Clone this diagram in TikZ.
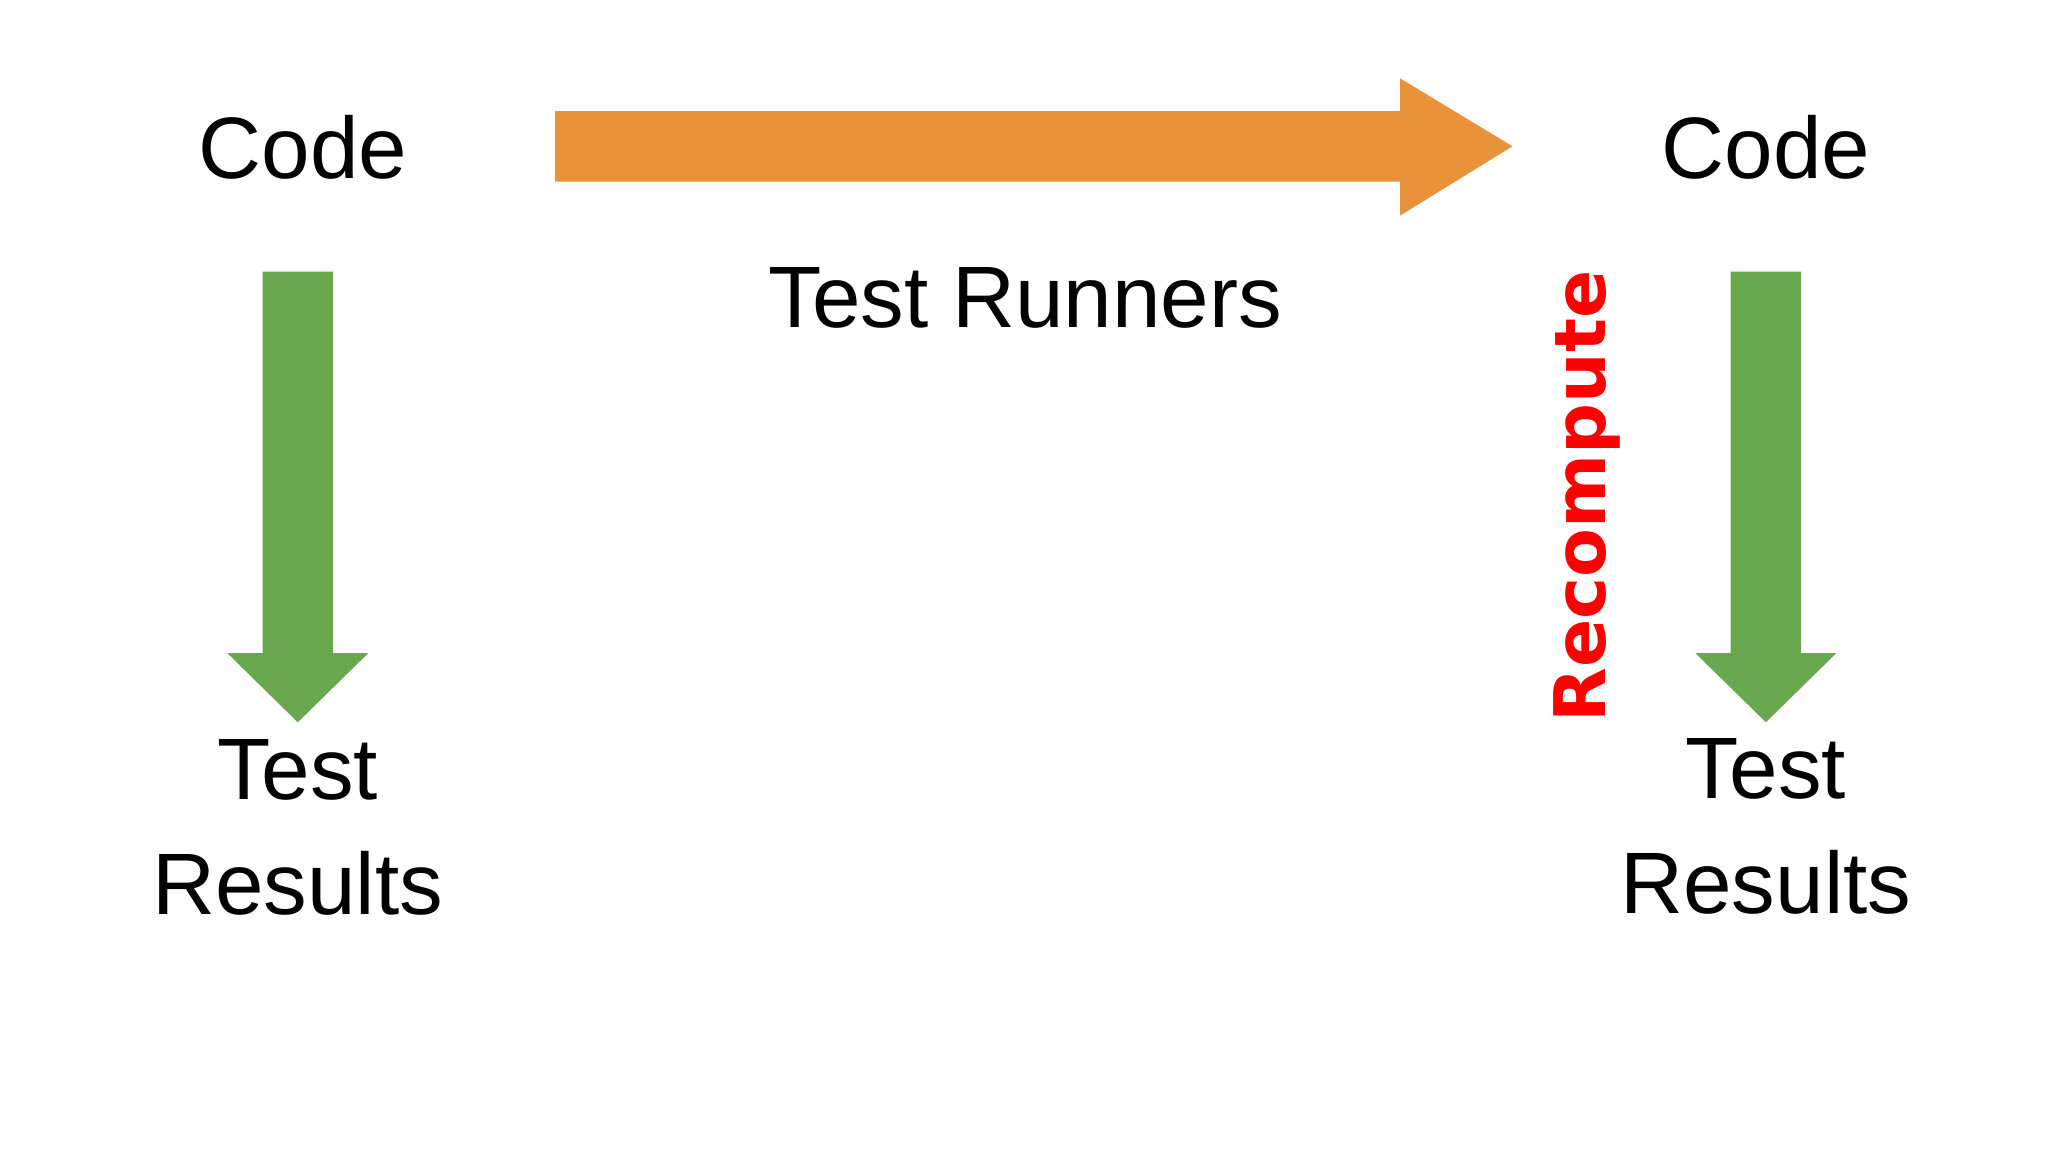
\documentclass[tikz,border=0pt]{standalone}
\usepackage{fontspec}
\setmainfont{Liberation Sans}
\newfontfamily\handfont{DejaVu Sans}
\definecolor{garrow}{HTML}{6AA84F}
\definecolor{oarrow}{HTML}{E8923A}
\begin{document}
\begin{tikzpicture}[x=0.1mm,y=-0.1mm,
  lbl/.style={font=\fontsize{19}{23}\selectfont, align=center, inner sep=0pt}]
\useasboundingbox (0,0) rectangle (1568,882);
\fill[white] (0,0) rectangle (1568,882);
% green arrows
\foreach \c/\n in {228/ga, 1352/gb}{
  \fill[garrow] (\c-27,208) -- (\c+27,208) -- (\c+27,500) -- (\c+54,500) -- (\c,553) -- (\c-54,500) -- (\c-27,500) -- cycle;
}
% orange arrow
\fill[oarrow] (425,85) -- (1072,85) -- (1072,60) -- (1158,112) -- (1072,165) -- (1072,139) -- (425,139) -- cycle;
\node[lbl] (code1) at (232,113) {Code};
\node[lbl] (code2) at (1352,113) {Code};
\node[lbl] (runners) at (785,228) {Test Runners};
\node[lbl, text depth=0pt] (res1) at (228,633) {Test\\[2pt]Results};
\node[lbl] (res2) at (1352,633) {Test\\[2pt]Results};
\node[font=\handfont\bfseries\fontsize{15.5}{18}\selectfont, text=red, rotate=90, inner sep=0pt] (recomp) at (1215,380) {Recompute};
\end{tikzpicture}
\end{document}
